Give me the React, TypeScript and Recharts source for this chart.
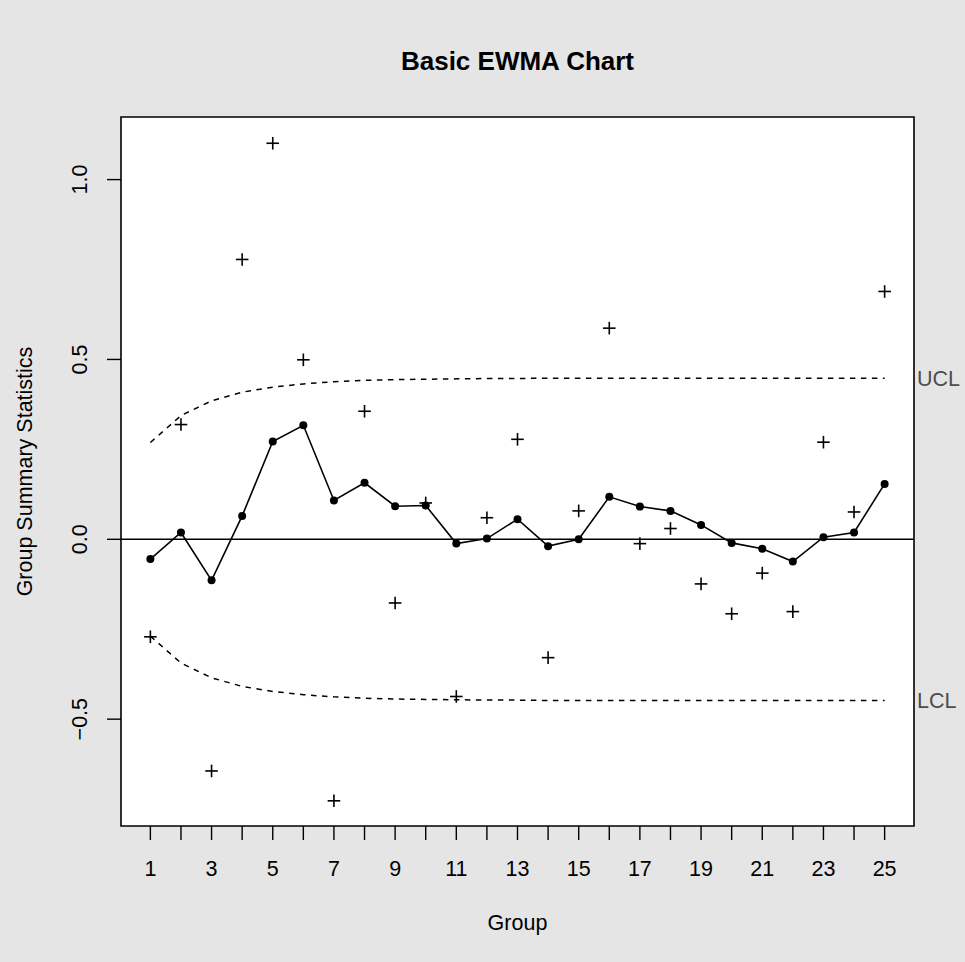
import {
  ComposedChart,
  Line,
  XAxis,
  YAxis,
  ReferenceArea,
  ReferenceLine,
} from "recharts";

// sample groups 1..25
const groups = [
  1, 2, 3, 4, 5, 6, 7, 8, 9, 10, 11, 12, 13, 14, 15, 16, 17, 18, 19, 20, 21,
  22, 23, 24, 25,
];

// group summary statistics (plotted as +)
const stats = [
  -0.271, 0.319, -0.644, 0.778, 1.101, 0.499, -0.727, 0.356, -0.177, 0.101,
  -0.437, 0.06, 0.278, -0.329, 0.079, 0.587, -0.012, 0.03, -0.124, -0.207,
  -0.094, -0.201, 0.27, 0.076, 0.689,
];

// smoothed EWMA statistic
const ewma = [
  -0.055, 0.019, -0.114, 0.065, 0.272, 0.317, 0.108, 0.157, 0.092, 0.094,
  -0.012, 0.002, 0.056, -0.019, 0.0, 0.118, 0.091, 0.079, 0.04, -0.01, -0.026,
  -0.062, 0.006, 0.019, 0.154,
];

// control limits
const ucl = [
  0.269, 0.344, 0.385, 0.409, 0.423, 0.432, 0.438, 0.442, 0.444, 0.445, 0.446,
  0.447, 0.447, 0.448, 0.448, 0.448, 0.448, 0.448, 0.448, 0.448, 0.448, 0.448,
  0.448, 0.448, 0.448,
];
const lcl = [
  -0.269, -0.344, -0.385, -0.409, -0.423, -0.432, -0.438, -0.442, -0.444,
  -0.445, -0.446, -0.447, -0.447, -0.448, -0.448, -0.448, -0.448, -0.448,
  -0.448, -0.448, -0.448, -0.448, -0.448, -0.448, -0.448,
];

const centerValue = 0;
const yTicks = [-0.5, 0, 0.5, 1.0];
const xDomain = [0.04, 25.96];
const yDomain = [-0.797, 1.174];

const FONT = "'Liberation Sans', Arial, Helvetica, sans-serif";

const rows = groups.map((g, i) => ({
  group: g,
  stat: stats[i],
  ewma: ewma[i],
  ucl: ucl[i],
  lcl: lcl[i],
}));

function XTick(props: any) {
  const { x, payload } = props;
  if (payload.value % 2 === 0) return <g />;
  return (
    <text x={x} y={876} textAnchor="middle" fontSize={21.5} fontFamily={FONT} fill="#000">
      {payload.value}
    </text>
  );
}

function YTick(props: any) {
  const { y, payload } = props;
  const label = payload.value === 0 ? "0.0" : payload.value.toFixed(1).replace("-", "\u2212");
  return (
    <text
      x={87}
      y={y}
      transform={`rotate(-90, 87, ${y})`}
      textAnchor="middle"
      fontSize={21.5}
      fontFamily={FONT}
      fill="#000"
    >
      {label}
    </text>
  );
}

function PlusMark(props: any) {
  const { cx, cy } = props;
  if (cx == null || cy == null) return <g />;
  const h = 6.3;
  return (
    <g stroke="#000" strokeWidth={1.6}>
      <line x1={cx - h} y1={cy} x2={cx + h} y2={cy} />
      <line x1={cx} y1={cy - h} x2={cx} y2={cy + h} />
    </g>
  );
}

export default function App() {
  return (
    <div
      style={{
        position: "absolute",
        left: 0,
        top: 0,
        width: 965,
        height: 962,
        background: "#e5e5e5",
      }}
    >
      <ComposedChart
        width={965}
        height={962}
        data={rows}
        margin={{ top: 117, right: 51, bottom: 0, left: 0 }}
      >
        <ReferenceArea
          x1={xDomain[0]}
          x2={xDomain[1]}
          y1={yDomain[0]}
          y2={yDomain[1]}
          fill="#fff"
          fillOpacity={1}
          stroke="#000"
          strokeWidth={1.6}
        />
        <XAxis
          type="number"
          dataKey="group"
          domain={xDomain}
          ticks={groups}
          interval={0}
          height={136}
          tickSize={14}
          axisLine={false}
          tickLine={{ stroke: "#000", strokeWidth: 1.4 }}
          tick={<XTick />}
          allowDataOverflow
        />
        <YAxis
          type="number"
          domain={yDomain}
          ticks={yTicks}
          interval={0}
          width={121}
          tickSize={14}
          axisLine={false}
          tickLine={{ stroke: "#000", strokeWidth: 1.4 }}
          tick={<YTick />}
          allowDataOverflow
        />
        <ReferenceLine y={centerValue} stroke="#000" strokeWidth={1.6} />
        <ReferenceLine
          y={ucl[ucl.length - 1]}
          stroke="none"
          label={{ value: "UCL", position: "right", offset: 3, fill: "#4d4d4d", fontSize: 21.5, fontFamily: FONT }}
        />
        <ReferenceLine
          y={lcl[lcl.length - 1]}
          stroke="none"
          label={{ value: "LCL", position: "right", offset: 3, fill: "#4d4d4d", fontSize: 21.5, fontFamily: FONT }}
        />
        <Line
          dataKey="ucl"
          stroke="#000"
          strokeWidth={1.5}
          strokeDasharray="5.5 5.5"
          dot={false}
          isAnimationActive={false}
        />
        <Line
          dataKey="lcl"
          stroke="#000"
          strokeWidth={1.5}
          strokeDasharray="5.5 5.5"
          dot={false}
          isAnimationActive={false}
        />
        <Line
          dataKey="ewma"
          stroke="#000"
          strokeWidth={1.6}
          dot={{ r: 4, fill: "#000", stroke: "none" }}
          activeDot={false}
          isAnimationActive={false}
        />
        <Line
          dataKey="stat"
          stroke="none"
          dot={<PlusMark />}
          activeDot={false}
          isAnimationActive={false}
        />
        <text x={517.5} y={70} textAnchor="middle" fontSize={26} fontWeight="bold" fontFamily={FONT} fill="#000">
          Basic EWMA Chart
        </text>
        <text x={517.5} y={930} textAnchor="middle" fontSize={21.5} fontFamily={FONT} fill="#000">
          Group
        </text>
        <text
          x={31.5}
          y={471.5}
          transform="rotate(-90, 31.5, 471.5)"
          textAnchor="middle"
          fontSize={21.5}
          fontFamily={FONT}
          fill="#000"
        >
          Group Summary Statistics
        </text>
      </ComposedChart>
    </div>
  );
}
